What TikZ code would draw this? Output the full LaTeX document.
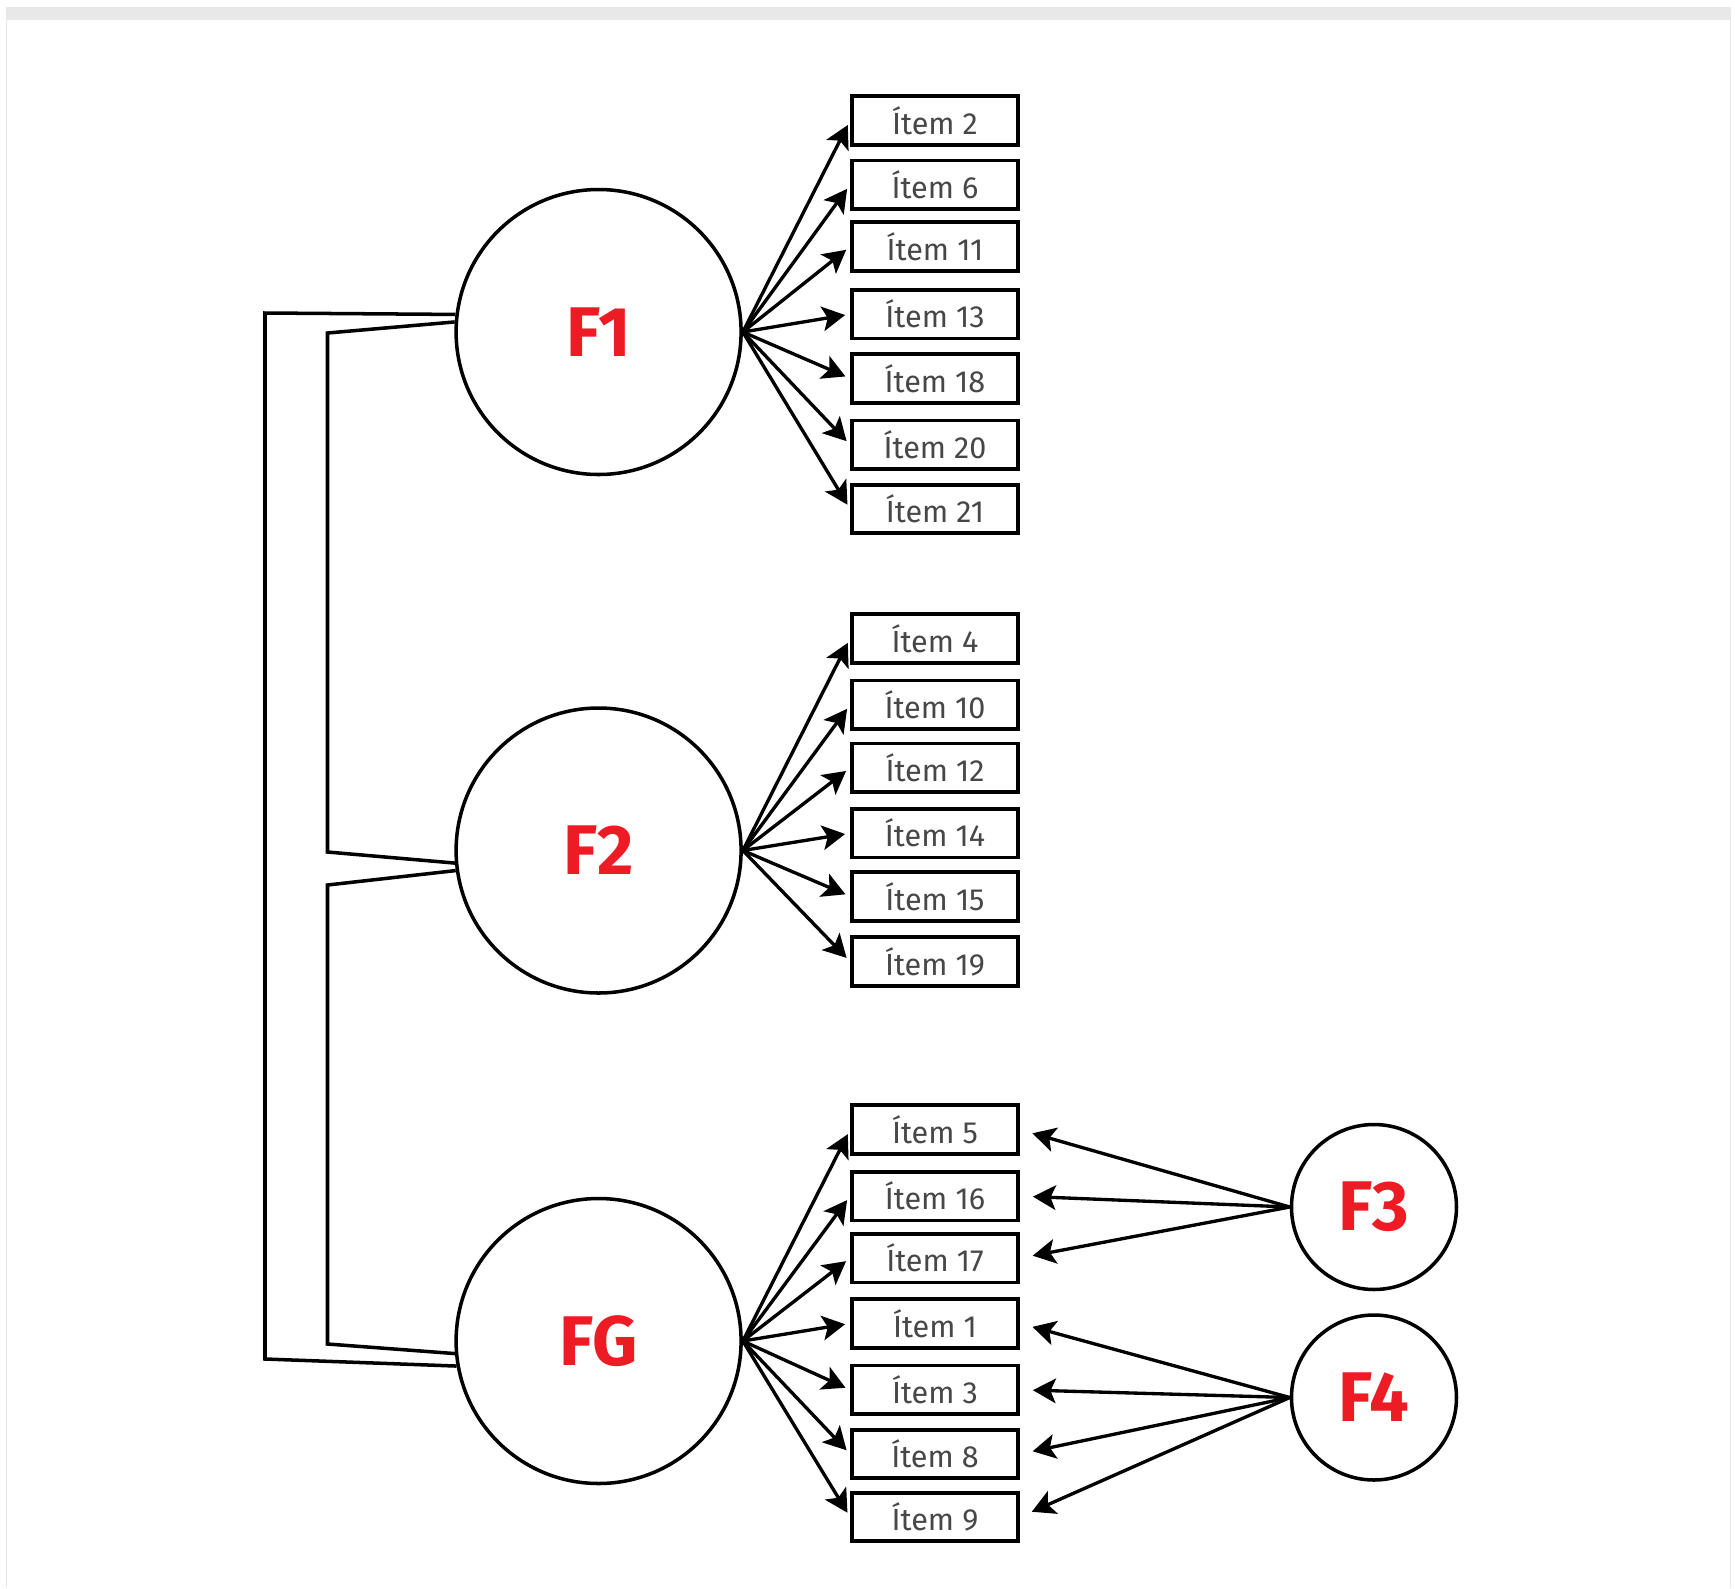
\documentclass[tikz,border=0pt]{standalone}
\usepackage{fontspec}
\setsansfont{Fira Sans}
\usetikzlibrary{arrows.meta,positioning}

\definecolor{factred}{HTML}{ED1C24}
\definecolor{itemgray}{HTML}{474747}
\definecolor{framegray}{HTML}{E8E8E8}

\begin{document}
\begin{tikzpicture}[
    x=0.1mm, y=-0.1mm,
    factor/.style={circle, draw=black, line width=1pt, inner sep=0pt, minimum size=28.5mm,
                   text=factred, font=\sffamily\bfseries\fontsize{20}{20}\selectfont},
    small/.style={factor, minimum size=16.5mm},
    item/.style={rectangle, draw=black, line width=1.1pt, inner sep=0pt,
                 minimum width=16.6mm, minimum height=4.87mm,
                 text=itemgray, font=\sffamily\fontsize{8.7}{8.7}\selectfont},
    load/.style={-{Stealth[length=6.5pt,width=7pt,inset=1.5pt]}, line width=0.95pt, shorten >=0.5mm},
    uniq/.style={load, shorten >=1.3mm},
    link/.style={line width=1pt, line join=miter}
  ]

  \useasboundingbox (0,0) rectangle (1735,1588);

  % page frame
  \fill[framegray] (6,7) rectangle (1731,20);
  \draw[framegray, line width=0.4pt] (6.5,20) -- (6.5,1588);
  \draw[framegray, line width=0.4pt] (1730.5,20) -- (1730.5,1588);

  % factors
  \node (f1)   [factor] at (598.6,332)   {F1};
  \node (f2)   [factor] at (598.6,850.5) {F2};
  \node (fg)   [factor] at (598.6,1341)  {FG};
  \node (f3)   [small]  at (1374,1207)   {F3};
  \node (f4)   [small]  at (1374,1397.5) {F4};

  % items
  \node (i2)   [item] at (935,120.5)  {Ítem 2};
  \node (i6)   [item] at (935,184.8)  {Ítem 6};
  \node (i11)  [item] at (935,246.7)  {Ítem 11};
  \node (i13)  [item] at (935,314.2)  {Ítem 13};
  \node (i18)  [item] at (935,378.4)  {Ítem 18};
  \node (i20)  [item] at (935,444.8)  {Ítem 20};
  \node (i21)  [item] at (935,509)    {Ítem 21};

  \node (i4)   [item] at (935,638.4)  {Ítem 4};
  \node (i10)  [item] at (935,704.8)  {Ítem 10};
  \node (i12)  [item] at (935,767.9)  {Ítem 12};
  \node (i14)  [item] at (935,833.2)  {Ítem 14};
  \node (i15)  [item] at (935,896.3)  {Ítem 15};
  \node (i19)  [item] at (935,961.5)  {Ítem 19};

  \node (i5)   [item] at (935,1129.7) {Ítem 5};
  \node (i16)  [item] at (935,1196.1) {Ítem 16};
  \node (i17)  [item] at (935,1258.1) {Ítem 17};
  \node (i1)   [item] at (935,1323.4) {Ítem 1};
  \node (i3)   [item] at (935,1389.8) {Ítem 3};
  \node (i8)   [item] at (935,1453.9) {Ítem 8};
  \node (i9)   [item] at (935,1517)   {Ítem 9};

  % loadings
  \path[load]  (f1.east)  edge (i2.west)  edge (i6.west)  edge (i11.west) edge (i13.west)
                          edge (i18.west) edge (i20.west) edge (i21.west);

  \path[load]  (f2.east)  edge (i4.west)  edge (i10.west) edge (i12.west) edge (i14.west)
                          edge (i15.west) edge (i19.west);

  \path[load]  (fg.east)  edge (i5.west)  edge (i16.west) edge (i17.west) edge (i1.west)
                          edge (i3.west)  edge (i8.west)  edge (i9.west);

  \path[uniq]  (f3.west)  edge (i5.east)  edge (i16.east) edge (i17.east);

  \path[uniq]  (f4.west)  edge (i1.east)  edge (i3.east)  edge (i8.east)  edge (i9.east);

  % correlations
  \coordinate (outtop) at (265,313);
  \coordinate (outbot) at (265,1359);
  \coordinate (intop)  at (327.5,333);
  \coordinate (inmida) at (327.5,852);
  \coordinate (inmidb) at (327.5,885);
  \coordinate (inbot)  at (327.5,1344);

  \draw[link]  (f1.173) -- (outtop) -- (outbot) -- (fg.190);
  \draw[link]  (f1.176) -- (intop)  -- (inmida) -- (f2.185);
  \draw[link]  (f2.188) -- (inmidb) -- (inbot)  -- (fg.185);
\end{tikzpicture}
\end{document}
